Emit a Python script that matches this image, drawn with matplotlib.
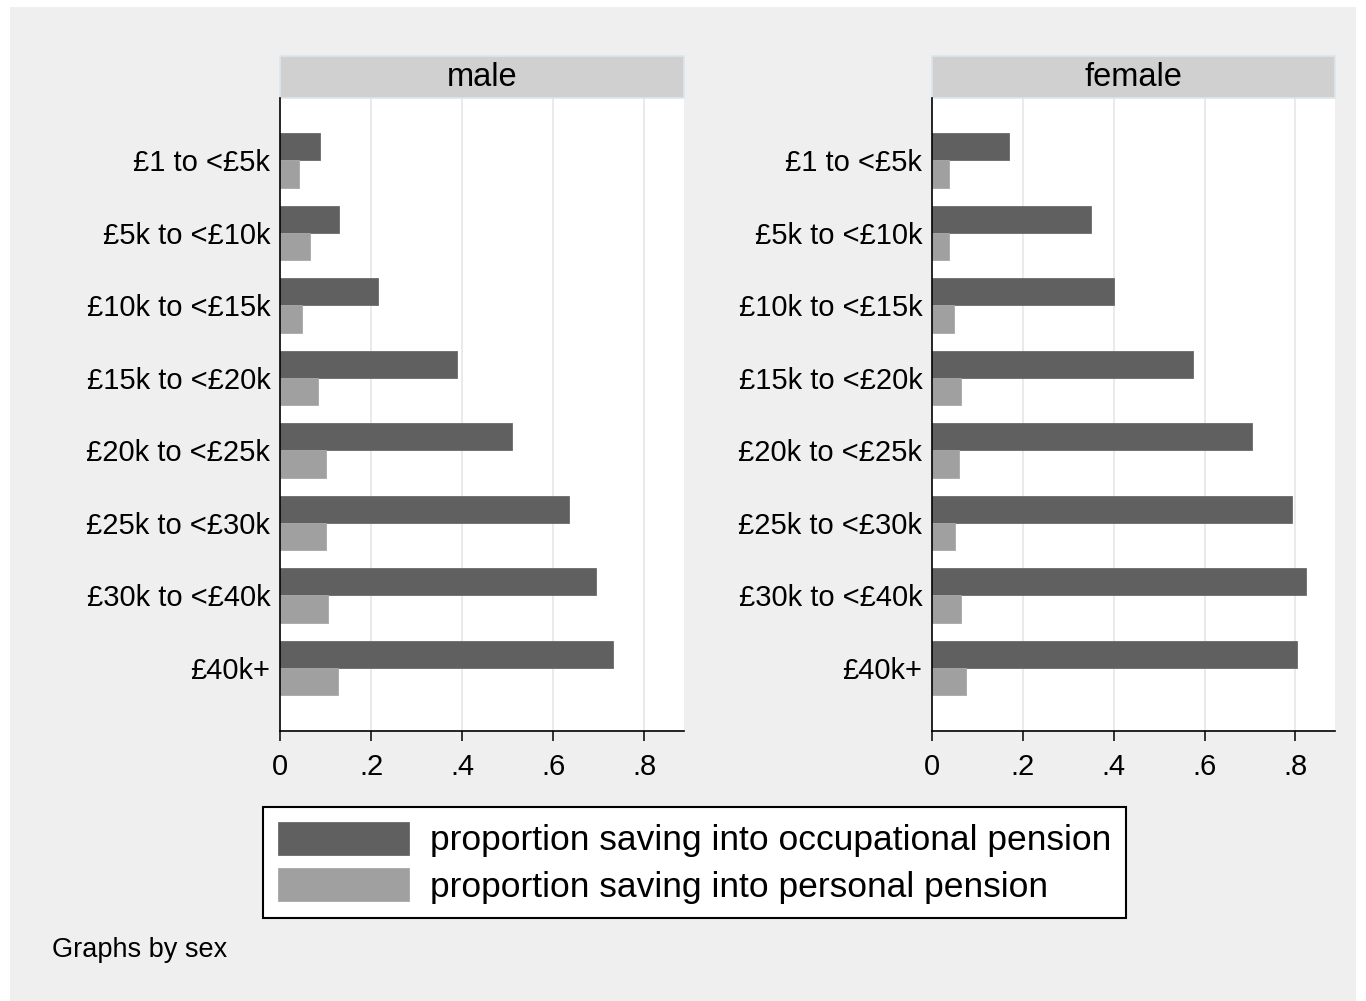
import numpy as np
import matplotlib
matplotlib.use("Agg")
import matplotlib.pyplot as plt
from matplotlib.patches import Rectangle, Patch
from matplotlib.ticker import FuncFormatter

plt.rcParams['font.family'] = ['Liberation Sans', 'DejaVu Sans']

# Income bands (top to bottom)
income_bands = ["£1 to <£5k", "£5k to <£10k", "£10k to <£15k", "£15k to <£20k",
                "£20k to <£25k", "£25k to <£30k", "£30k to <£40k", "£40k+"]

# Proportions saving, by sex
male_occupational = [0.088, 0.129, 0.216, 0.389, 0.510, 0.634, 0.693, 0.732]
male_personal = [0.042, 0.066, 0.049, 0.084, 0.102, 0.102, 0.106, 0.128]
female_occupational = [0.169, 0.350, 0.401, 0.574, 0.705, 0.793, 0.823, 0.804]
female_personal = [0.038, 0.038, 0.048, 0.064, 0.060, 0.051, 0.064, 0.074]

panels = ["male", "female"]
series_labels = ["proportion saving into occupational pension",
                 "proportion saving into personal pension"]
x_ticks = [0, 0.2, 0.4, 0.6, 0.8]

DARK = "#606060"
LIGHT = "#a0a0a0"
BG = "#efefef"
FS_TICK = 21
FS_STRIP = 23.5
FS_LEG = 25.5
FS_NOTE = 19.5

W, H = 1366, 1001
fig = plt.figure(figsize=(W / 100, H / 100), dpi=100, facecolor="white")

# Outer grey graph region
fig.patches.append(Rectangle((10 / W, 0), (1356 - 10) / W, 1 - 7 / H,
                             transform=fig.transFigure, facecolor=BG,
                             edgecolor="none", zorder=-10))

ax_bottom = 1 - 731 / H
ax_height = (731 - 98) / H
lefts = [280 / W, 932 / W]
widths = [(684 - 280) / W, (1335 - 932) / W]

data = {
    "male": (male_occupational, male_personal),
    "female": (female_occupational, female_personal),
}

ypos = np.arange(len(income_bands))
bar_h = 0.375

fmt = FuncFormatter(lambda v, p: "0" if abs(v) < 1e-9 else (f"{v:.1f}".lstrip("0")))

for name, left, width in zip(panels, lefts, widths):
    ax = fig.add_axes([left, ax_bottom, width, ax_height])
    ax.set_facecolor("white")
    occ, pers = data[name]
    ax.barh(ypos - bar_h / 2, occ, height=bar_h, color=DARK,
            edgecolor="#6a6a6a", linewidth=0.6, zorder=3)
    ax.barh(ypos + bar_h / 2, pers, height=bar_h, color=LIGHT,
            edgecolor="#a8a8a8", linewidth=0.6, zorder=3)
    ax.set_xlim(0, 0.887)
    ax.set_ylim(7.872, -0.862)
    ax.set_yticks(ypos)
    ax.set_yticklabels(income_bands, fontsize=FS_TICK)
    ax.set_xticks(x_ticks)
    ax.xaxis.set_major_formatter(fmt)
    ax.tick_params(axis="y", length=0, pad=7)
    ax.tick_params(axis="x", length=7.5, width=1.1, pad=8, labelsize=FS_TICK,
                   direction="out", colors="black")
    for v in x_ticks[1:]:
        ax.axvline(v, color="#e6e6e6", linewidth=1.2, zorder=1)
    for s in ("top", "right"):
        ax.spines[s].set_visible(False)
    for s in ("left", "bottom"):
        ax.spines[s].set_linewidth(1.2)
        ax.spines[s].set_color("black")
        ax.spines[s].set_zorder(5)

    # Panel header strip
    strip_h = 42 / (731 - 98)
    ax.add_patch(Rectangle((0, 1), 1, strip_h, transform=ax.transAxes,
                           facecolor="#d0d0d0", edgecolor="#dbe6eb",
                           linewidth=1.2, clip_on=False, zorder=4))
    ax.text(0.5, 1 + strip_h / 2, name, transform=ax.transAxes,
            ha="center", va="center", fontsize=FS_STRIP, zorder=5)

handles = [Patch(facecolor=DARK, edgecolor="#6a6a6a", linewidth=0.6),
           Patch(facecolor=LIGHT, edgecolor="#a8a8a8", linewidth=0.6)]
leg = fig.legend(handles, series_labels, loc="upper left",
                 bbox_to_anchor=(263 / W, 1 - 807 / H),
                 fontsize=FS_LEG, frameon=True, fancybox=False, shadow=False,
                 handlelength=3.7, handleheight=1.05, handletextpad=0.6,
                 labelspacing=0.3, borderpad=0.42, borderaxespad=0)
frame = leg.get_frame()
frame.set_edgecolor("black")
frame.set_linewidth(1.5)
frame.set_facecolor("white")
frame.set_alpha(1)

fig.text(52 / W, 1 - 950 / H, "Graphs by sex", ha="left", va="center",
         fontsize=FS_NOTE)

fig.savefig("out.png", dpi=100, facecolor=fig.get_facecolor())
